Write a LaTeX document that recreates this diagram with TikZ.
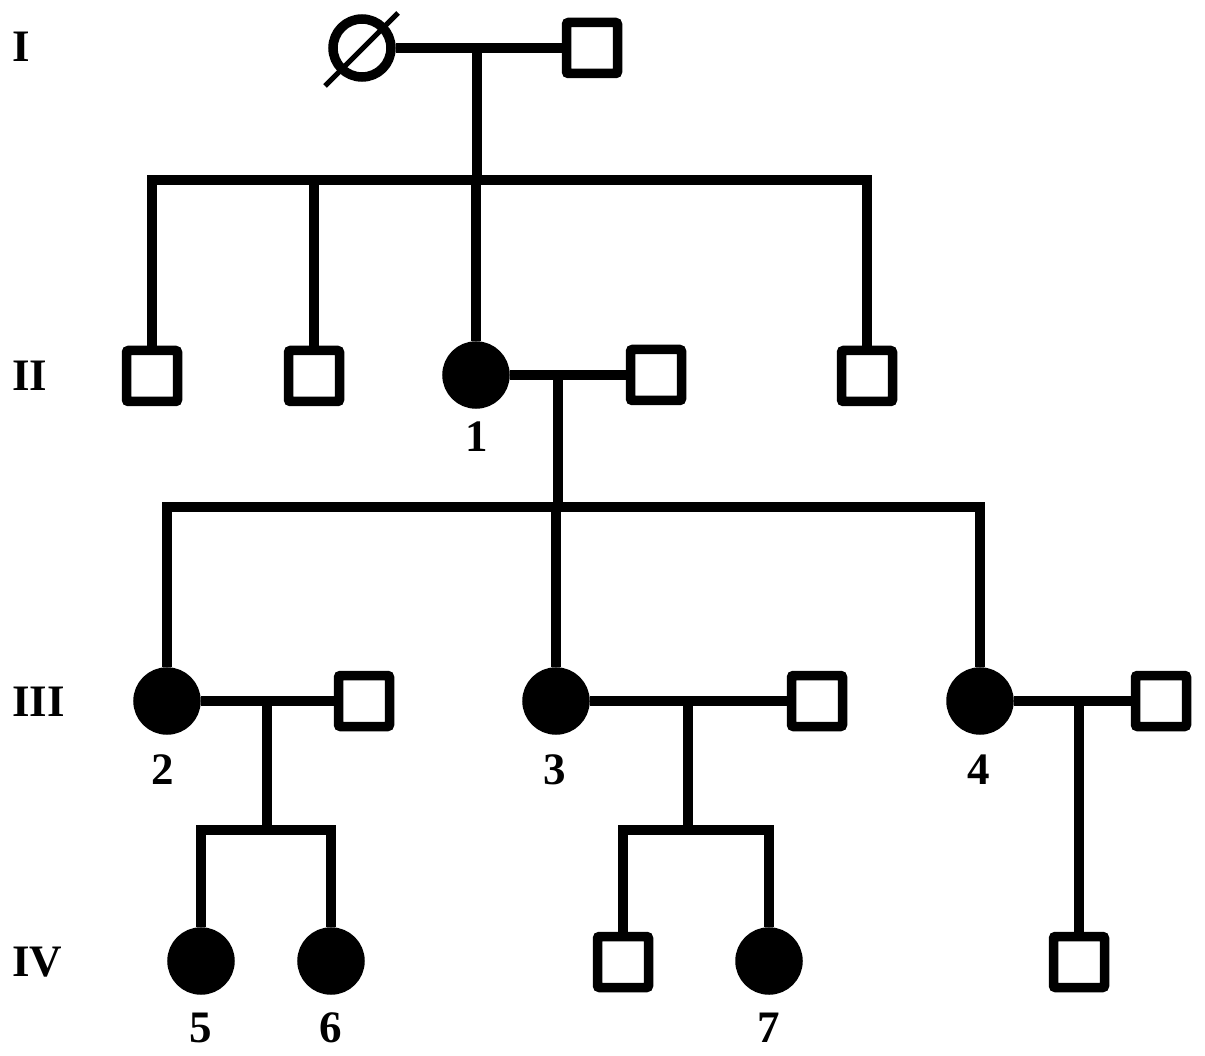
\documentclass[tikz,border=0pt]{standalone}
\usepackage{fontspec}
\setmainfont{Liberation Serif}
\begin{document}
\begin{tikzpicture}[x=1pt,y=-1pt,
  ln/.style={line width=9.5pt},
  male/.style={draw,line width=9.5pt,minimum size=51pt,inner sep=0pt,rounded corners=2pt},
  aff/.style={circle,draw,fill=black,line width=9.5pt,minimum size=58pt,inner sep=0pt},
  fem/.style={circle,draw,line width=9.5pt,minimum size=58pt,inner sep=0pt},
  lab/.style={font=\fontsize{45}{45}\selectfont\bfseries,inner sep=0pt},
  gen/.style={font=\fontsize{45}{45}\selectfont\bfseries,inner sep=0pt,anchor=west}]
\useasboundingbox (0,0) rectangle (1205,1056);
% generation labels
\node[gen] (gI) at (12,47) {I};
\node[gen] (gII) at (12,376) {II};
\node[gen] (gIII) at (12,702) {III};
\node[gen] (gIV) at (12,962) {IV};
% Generation I
\node[fem] (i1) at (362,48) {};
\node[male] (i2) at (592,48) {};
\draw[line width=5pt] (325,86) coordinate (sa) -- (398,13) coordinate (sb);
\draw[ln] (i1.east) -- (i2.west);
\coordinate (m1) at (477,48);
\coordinate (d1) at (477,180);
\draw[ln] (m1) -- (d1);
% Generation II
\node[male] (ii1) at (152,376) {};
\node[male] (ii2) at (314,376) {};
\node[aff] (ii3) at (476,375) {};
\node[male] (ii4) at (656,375) {};
\node[male] (ii5) at (867,376) {};
\node[lab] (l1) at (477,437) {1};
\draw[ln] (ii1.north) |- (d1) -| (ii5.north);
\draw[ln] (ii2.north) -- (ii2.north |- d1);
\draw[ln] (ii3.north) -- (ii3.north |- d1);
\draw[ln] (ii3.east) -- (ii4.west);
\coordinate (m2) at (558,375);
\coordinate (d2) at (558,507);
\draw[ln] (m2) -- (d2);
% Generation III
\node[aff] (iii1) at (167,701) {};
\node[male] (iii2) at (364,701) {};
\node[aff] (iii3) at (556,701) {};
\node[male] (iii4) at (817,701) {};
\node[aff] (iii5) at (980,701) {};
\node[male] (iii6) at (1161,701) {};
\node[lab] (l2) at (163,770) {2};
\node[lab] (l3) at (555,770) {3};
\node[lab] (l4) at (979,770) {4};
\draw[ln] (iii1.north) |- (d2) -| (iii5.north);
\draw[ln] (iii3.north) -- (iii3.north |- d2);
\draw[ln] (iii1.east) -- (iii2.west);
\draw[ln] (iii3.east) -- (iii4.west);
\draw[ln] (iii5.east) -- (iii6.west);
\coordinate (m3) at (267,701);
\coordinate (d3) at (267,830);
\coordinate (m4) at (688,701);
\coordinate (d4) at (688,830);
\coordinate (m5) at (1079,701);
\draw[ln] (m3) -- (d3);
\draw[ln] (m4) -- (d4);
% Generation IV
\node[aff] (iv1) at (201,961) {};
\node[aff] (iv2) at (331,961) {};
\node[male] (iv3) at (623,962) {};
\node[aff] (iv4) at (769,961) {};
\node[male] (iv5) at (1079,962) {};
\node[lab] (l5) at (201,1028) {5};
\node[lab] (l6) at (331,1028) {6};
\node[lab] (l7) at (769,1028) {7};
\draw[ln] (iv1.north) |- (d3) -| (iv2.north);
\draw[ln] (iv3.north) |- (d4) -| (iv4.north);
\draw[ln] (m5) -- (iv5.north);
\end{tikzpicture}
\end{document}
